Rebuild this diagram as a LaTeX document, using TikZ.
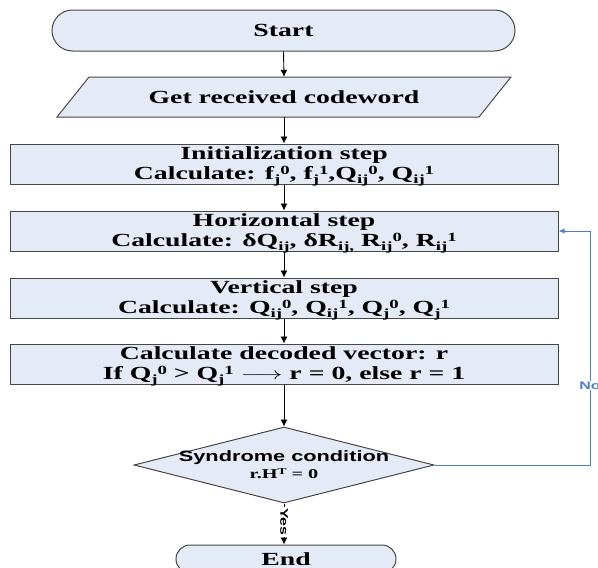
\documentclass[tikz,border=0pt]{standalone}
\usepackage{fontspec}
\usepackage{graphicx}
\setmainfont{Liberation Serif}[FakeStretch=1.5]
\newfontfamily\lsans{Liberation Sans}[FakeStretch=1.45]
\usetikzlibrary{shapes.misc,shapes.geometric,arrows.meta}
\definecolor{boxfill}{RGB}{229,235,246}
\definecolor{boxline}{RGB}{70,70,70}
\definecolor{loopblue}{RGB}{74,126,200}
\newcommand{\sbs}[1]{\raisebox{-0.2em}{\fontsize{12.5}{12.5}\selectfont #1}}
\newcommand{\sps}[1]{\raisebox{0.27em}{\fontsize{12.5}{12.5}\selectfont #1}}
\begin{document}
\begin{tikzpicture}[x=1pt,y=-1pt,
  txt/.style={font=\fontsize{18.5}{20.5}\selectfont\bfseries, align=center},
  base/.style={draw=boxline, fill=boxfill, line width=1pt, inner sep=0pt, txt},
  stepbox/.style={base, rectangle, minimum width=548pt, minimum height=40pt, text depth=2pt},
  term/.style={base, rounded rectangle, minimum height=41pt},
  arr/.style={-{Latex[length=7pt,width=7pt]}, line width=0.9pt, black},
  loop/.style={-{Latex[length=6pt,width=5pt]}, line width=0.9pt, loopblue},
  lbl/.style={fill=white, inner sep=1pt, font=\lsans\bfseries\fontsize{11}{11}\selectfont}
]
\useasboundingbox (0,0) rectangle (598,568);
\node[term, minimum width=463pt] (start) at (283.5,30.5) {Start};
\draw[base] (57,117) -- (89,77) -- (511,77) -- (479,117) -- cycle;
\node[txt, inner sep=0pt, minimum width=454pt, minimum height=40pt] (get) at (284,97) {Get received codeword};
\node[stepbox] (init) at (284,164) {Initialization step\\Calculate: f\sbs{j}\sps{0}, f\sbs{j}\sps{1},Q\sbs{ij}\sps{0}, Q\sbs{ij}\sps{1}};
\node[stepbox] (hor) at (284,231) {Horizontal step\\Calculate: δQ\sbs{ij}, δR\sbs{ij,} R\sbs{ij}\sps{0}, R\sbs{ij}\sps{1}};
\node[stepbox] (ver) at (284,298) {Vertical step\\Calculate: Q\sbs{ij}\sps{0}, Q\sbs{ij}\sps{1}, Q\sbs{j}\sps{0}, Q\sbs{j}\sps{1}};
\node[stepbox] (dec) at (284,364) {Calculate decoded vector: r\\If Q\sbs{j}\sps{0} > Q\sbs{j}\sps{1} \scalebox{1.5}[1]{$\longrightarrow$} r = 0, else r = 1};
\node[base, diamond, minimum width=300pt, minimum height=76pt] (syn) at (284,465) {};
\node[align=center, inner sep=0pt] (syntext) at (284,465) {{\lsans\bfseries\fontsize{15}{15}\selectfont Syndrome condition}\\[3pt]{\bfseries\fontsize{13.5}{13.5}\selectfont r.H\raisebox{0.3em}{\fontsize{9}{9}\selectfont T} = 0}};
\node[term, minimum width=220pt, minimum height=28pt] (end) at (286,559) {End};
\coordinate (c1) at (590,465);
\coordinate (c2) at (590,231);
\draw[arr] (start.south) -- (get.north);
\draw[arr] (get.south) -- (init.north);
\draw[arr] (init.south) -- (hor.north);
\draw[arr] (hor.south) -- (ver.north);
\draw[arr] (ver.south) -- (dec.north);
\draw[arr] (dec.south) -- (syn.north);
\draw[arr] (syn.south) -- node[lbl, rotate=-90, pos=0.45] {Yes} (syn.south |- end.north);
\draw[loop] (syn.east) -- (c1) -- node[lbl, pos=0.34] {No} (c2) -- (hor.east);
\end{tikzpicture}
\end{document}
